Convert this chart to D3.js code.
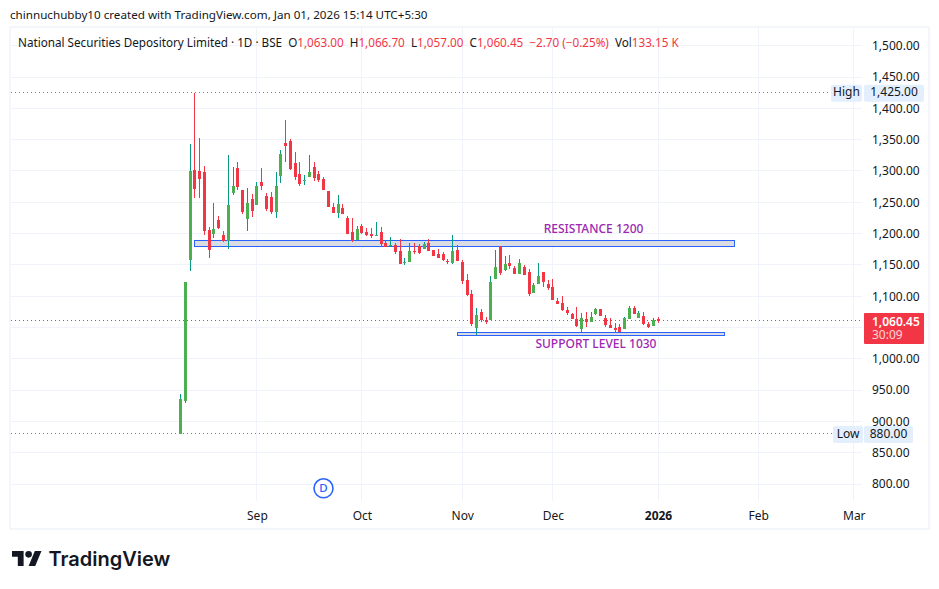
<!DOCTYPE html>
<html><head><meta charset="utf-8">
<script src="https://cdn.jsdelivr.net/npm/d3@7/dist/d3.min.js"></script>
<style>html,body{margin:0;padding:0;background:#fff}svg{display:block}text{font-family:"Noto Sans",sans-serif}</style>
</head><body><div id="c"></div>
<script>
const opens =[880,932.6,1157.8,1301.5,1299.9,1298.3,1205.7,1199.3,1221.6,1197.7,1188.1,1264.8,1304.7,1269.5,1223.2,1255.2,1245.6,1282.3,1260,1258.4,1234.4,1291.9,1344.6,1347.8,1312.7,1295,1284,1290.3,1306.3,1295,1287,1268,1242.4,1232.8,1240.8,1224.8,1202.5,1189.7,1212,1202.5,1199.3,1196.1,1202.5,1184.9,1181,1181.7,1172,1153,1154.6,1172,1180.1,1175.3,1184.9,1173.7,1167.3,1167.3,1156.2,1153,1173.7,1154.6,1125.8,1103.5,1049.2,1074.7,1062,1062,1127.4,1180.1,1141.8,1153,1145,1135.4,1146.6,1138.6,1105,1119.4,1138.6,1119.4,1114.6,1092.3,1089.1,1077.9,1071.5,1063.5,1047.6,1063.5,1058.8,1071.5,1079.5,1065.1,1053.9,1049.2,1050.8,1047.6,1063.5,1081.1,1065.1,1068.3,1055.6,1052.4,1063];
const highs =[943.8,1122.6,1343,1425,1352.6,1307.9,1210.4,1248.8,1228,1204,1325.4,1306.3,1314.3,1269.5,1272.7,1263.1,1282.3,1304.7,1264.8,1266.3,1298.3,1333.4,1381.3,1351,1330.2,1314.3,1293.5,1325.4,1314.3,1299.9,1290.3,1268,1248.8,1261.6,1247.2,1228,1224.8,1212,1215.2,1208.9,1208.9,1218.4,1210.4,1188.1,1194.5,1184.9,1191.3,1161,1184.9,1184.9,1183.3,1186.5,1191.3,1173.7,1175.3,1170.5,1159.4,1197.7,1181.7,1157.8,1135.4,1109.8,1081.1,1079.5,1066.7,1132.2,1173.7,1180.1,1164.1,1165.7,1148.2,1159.4,1149.8,1143.4,1121,1153,1138.6,1125.8,1127.4,1097,1100.3,1082.7,1073.1,1082.7,1073.1,1074.7,1074.7,1081.1,1079.5,1069.9,1065.1,1057.2,1055.6,1066.7,1084.3,1084.3,1076.3,1074.7,1058.8,1065.1,1066.7];
const lows  =[880,929.4,1140.7,1256.8,1256.8,1197.7,1161,1192.9,1207.3,1186.5,1175.3,1261.6,1269.5,1231.2,1204,1226.4,1245.6,1269.5,1236,1231.2,1224.8,1280.7,1314.3,1301.5,1285.5,1276,1277.5,1290.3,1283.9,1282.3,1269.5,1242.4,1232.8,1224.8,1231.2,1199.3,1186.5,1189.7,1199.3,1196.1,1192.9,1196.1,1180.1,1178.5,1178.5,1167.3,1151.4,1149.8,1154.6,1167.3,1167.3,1175.3,1172,1164.1,1161,1156.2,1151.4,1151.4,1156.2,1119.4,1100.3,1052.4,1038,1058.8,1055.6,1062,1127.4,1133.8,1140.2,1143.4,1135.4,1135.4,1133.8,1100.3,1105,1119.4,1114.6,1109.8,1093.9,1087.5,1076.3,1069.9,1063.5,1050.8,1042.8,1050.8,1058.8,1069.9,1068.3,1050.8,1049.2,1042.8,1042.8,1047.6,1063.5,1071.5,1065.1,1053.9,1049.2,1052.4,1057];
const closes=[935.8,1122.6,1299.9,1271.1,1287,1204,1173.7,1207.3,1208.9,1188.1,1245.6,1276,1274.3,1234.4,1248.8,1236,1276,1276,1239.2,1234.4,1276,1327,1339.8,1303,1290.3,1279,1285.5,1298.3,1288.7,1285.5,1269.5,1242.4,1232.8,1247.2,1231.2,1199.3,1188.1,1207.3,1200.9,1197.7,1196.1,1197.7,1183.3,1178.5,1181.7,1170.5,1151.4,1154.6,1172,1170.5,1168.9,1183.3,1172,1164.1,1161,1157.8,1154.6,1172,1156.2,1124.2,1101.9,1055.6,1069.9,1062,1058.8,1122.6,1146.6,1137,1151.4,1148.2,1135.4,1153,1133.8,1103.5,1117.8,1132.2,1122.6,1113,1093.9,1087.5,1077.9,1073.1,1063.5,1052.4,1065.1,1058.8,1066.7,1079.5,1068.3,1053.9,1049.2,1046,1042.8,1065.1,1081.1,1071.5,1073.1,1055.6,1050.8,1061.9,1060.45];
const priceTicks=[800,850,900,950,1000,1050,1100,1150,1200,1250,1300,1350,1400,1450,1500];
const axisPriceTicks=[800,850,900,950,1000,1100,1150,1200,1250,1300,1350,1400,1450,1500];
const monthIndex=[16,38,59,78,100,121,141];
const monthLabels=["Sep","Oct","Nov","Dec","2026","Feb","Mar"];
const zones=[{t:1189.2,b:1179.6,a:3,z:116},{t:1042.3,b:1036.9,a:58,z:114}];
const notes=[{text:"RESISTANCE 1200",p:1206.5,i:86.5},{text:"SUPPORT LEVEL 1030",p:1023,i:87}];
const allTimeHigh=1425,allTimeLow=880,lastClose=1060.45;

const W=939,H=589;
const svg=d3.select("#c").append("svg").attr("width",W).attr("height",H);
const x=d3.scaleLinear().domain([0,100]).range([180.5,658]);
const y=d3.scaleLinear().domain([800,1500]).range([484,45.7]);
const grid="#f0f3fa",up="#4caf50",upWick="#089981",down="#f23645",ink="#131722";
const crisp=v=>Math.floor(v)+.5;

svg.append("text").attr("x",10).attr("y",18.5).attr("font-size",11.65).attr("fill",ink)
  .text("chinnuchubby10 created with TradingView.com, Jan 01, 2026 15:14 UTC+5:30");
svg.append("rect").attr("x",10).attr("y",27).attr("width",919).attr("height",502).attr("fill","none").attr("stroke",grid).attr("stroke-width",1.5);

const g=svg.append("g");
g.selectAll(".hg").data(priceTicks).join("line").attr("x1",11).attr("x2",862)
 .attr("y1",d=>crisp(y(d))).attr("y2",d=>crisp(y(d))).attr("stroke",grid);
g.selectAll(".vg").data(monthIndex).join("line").attr("y1",28).attr("y2",501)
 .attr("x1",d=>crisp(x(d))).attr("x2",d=>crisp(x(d))).attr("stroke",grid);

// dotted level lines
[[allTimeHigh,"#787b86",831],[allTimeLow,"#787b86",833],[lastClose,down,862]].forEach(([p,c,end])=>{
  g.append("line").attr("x1",11).attr("x2",end).attr("y1",crisp(y(p))).attr("y2",crisp(y(p)))
   .attr("stroke",c).attr("stroke-dasharray","1 3");
});

// zones
g.selectAll(".zone").data(zones).join("rect")
 .attr("x",d=>crisp(x(d.a))).attr("width",d=>Math.round(x(d.z)-x(d.a)))
 .attr("y",d=>crisp(y(d.t))).attr("height",d=>Math.round(y(d.b)-y(d.t)))
 .attr("fill","#d9dde3").attr("stroke","#2962ff").attr("stroke-width",1);

// candles
const idx=d3.range(opens.length);
const c=g.selectAll(".candle").data(idx).join("g").attr("shape-rendering","crispEdges");
c.append("rect").attr("x",i=>Math.floor(x(i))).attr("width",1)
 .attr("y",i=>Math.round(y(highs[i]))).attr("height",i=>Math.max(1,Math.round(y(lows[i]))-Math.round(y(highs[i]))))
 .attr("fill",i=>closes[i]>=opens[i]?upWick:down);
c.append("rect").attr("x",i=>Math.floor(x(i))-1).attr("width",3)
 .attr("y",i=>Math.round(y(Math.max(opens[i],closes[i]))))
 .attr("height",i=>Math.max(1,Math.round(y(Math.min(opens[i],closes[i])))-Math.round(y(Math.max(opens[i],closes[i])))))
 .attr("fill",i=>closes[i]>=opens[i]?up:down);

// notes
g.selectAll(".note").data(notes).join("text").attr("x",d=>x(d.i)).attr("y",d=>y(d.p))
 .attr("text-anchor","middle").attr("font-size",12).attr("font-weight",500).attr("fill","#9c27b0").attr("dominant-baseline","middle").text(d=>d.text);

// legend
const leg=svg.append("text").attr("x",18).attr("y",46.5).attr("font-size",11.7).attr("fill",ink);
[["National Securities Depository Limited · 1D · BSE  O",ink],["1,063.00",down],["  H",ink],["1,066.70",down],["  L",ink],["1,057.00",down],["  C",ink],["1,060.45",down],["  −2.70 (−0.25%)",down],["  Vol",ink],["133.15 K",down]]
 .forEach(([t,col])=>leg.append("tspan").attr("fill",col).attr("xml:space","preserve").style("white-space","pre").text(t));

// price axis
const yAxis=d3.axisRight(y).tickValues(axisPriceTicks).tickSize(0).tickPadding(0).tickFormat(d3.format(",.2f"));
const ya=svg.append("g").attr("transform","translate(872,0)").call(yAxis);
ya.select(".domain").remove();
ya.selectAll("text").attr("font-size",12).attr("fill",ink).style("font-family",'"Noto Sans",sans-serif');

// time axis
const xAxis=d3.axisBottom(x).tickValues(monthIndex).tickSize(0).tickPadding(0).tickFormat((d,i)=>monthLabels[i]);
const xa=svg.append("g").attr("transform","translate(0,511)").call(xAxis);
xa.select(".domain").remove();
xa.selectAll("text").attr("font-size",12).attr("fill",ink).style("font-family",'"Noto Sans",sans-serif')
  .attr("font-weight",(d,i)=>monthLabels[i]==="2026"?700:400);

// badges
const badge=(bx,w,p,t,bg,col)=>{
  svg.append("rect").attr("x",bx).attr("y",y(p)-8).attr("width",w).attr("height",17).attr("rx",2).attr("fill",bg);
  svg.append("text").attr("x",bx+w/2).attr("y",y(p)+.5).attr("text-anchor","middle").attr("dominant-baseline","middle").attr("font-size",12).attr("fill",col).text(t);
};
badge(831,31,allTimeHigh,"High","#e3effd",ink);
badge(864,60,allTimeHigh,d3.format(",.2f")(allTimeHigh),"#e3effd",ink);
badge(833,30,allTimeLow,"Low","#e3effd",ink);
badge(864,49,allTimeLow,d3.format(",.2f")(allTimeLow),"#e3effd",ink);
svg.append("rect").attr("x",864).attr("y",313).attr("width",60).attr("height",31).attr("rx",1).attr("fill",down);
svg.append("text").attr("x",872).attr("y",325.5).attr("font-size",12).attr("font-weight",600).attr("fill","#fff").text(d3.format(",.2f")(lastClose));
svg.append("text").attr("x",872).attr("y",339).attr("font-size",12).attr("fill","#fff").attr("fill-opacity",.8).text("30:09");

// D badge
svg.append("circle").attr("cx",323.5).attr("cy",488.3).attr("r",9.5).attr("fill","#fff").attr("stroke","#2962ff").attr("stroke-width",1.6);
svg.append("text").attr("x",323.5).attr("y",488.8).attr("text-anchor","middle").attr("dominant-baseline","middle").attr("font-size",11.5).attr("font-weight",500).attr("fill","#2962ff").text("D");

// logo
const logo=svg.append("g").attr("transform","translate(12,547.7) scale(.83)").attr("fill","#131722");
logo.append("path").attr("d","M14 22H7V11H0V4h14v18zM28 22h-8l7.5-18h8L28 22z");
logo.append("circle").attr("cx",20).attr("cy",8).attr("r",4);
svg.append("text").attr("x",48.5).attr("y",566).attr("font-size",20).attr("font-weight",600).attr("fill","#131722").style("font-family","Inter,sans-serif").text("TradingView");
</script></body></html>
